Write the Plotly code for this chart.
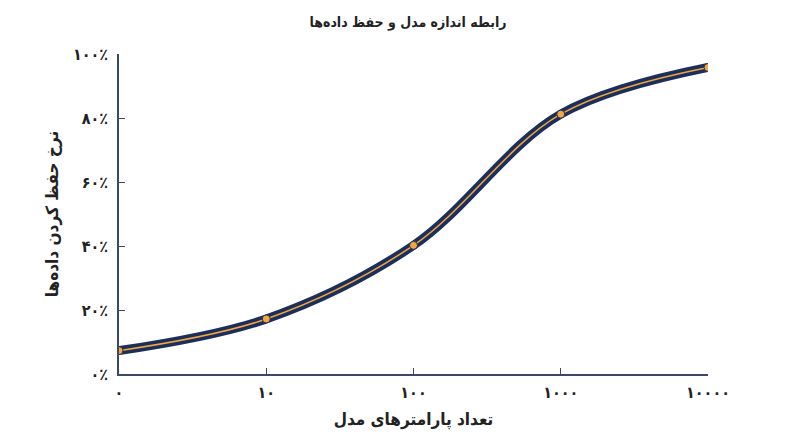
import plotly.graph_objects as go

# داده‌ها
x_pos = [0, 1, 2, 3, 4]
x_labels = ["۰", "۱۰", "۱۰۰", "۱۰۰۰", "۱۰۰۰۰"]
retention = [7.3, 17.2, 40.2, 81.2, 95.8]
y_ticks = [0, 20, 40, 60, 80, 100]
y_labels = ["۰٪", "۲۰٪", "۴۰٪", "۶۰٪", "۸۰٪", "۱۰۰٪"]

navy = "#1c2f5a"
orange = "#f2a640"
font_name = "DejaVu Sans Condensed, DejaVu Sans"

fig = go.Figure()
# خط ضخیم سرمه‌ای
fig.add_trace(go.Scatter(
    x=x_pos, y=retention,
    mode="lines",
    line=dict(color=navy, width=9, shape="spline", smoothing=1.0),
    hoverinfo="skip",
    showlegend=False,
))
# خط نازک نارنجی با نقاط
fig.add_trace(go.Scatter(
    x=x_pos, y=retention,
    mode="lines+markers",
    line=dict(color=orange, width=1.5, shape="spline", smoothing=1.0),
    marker=dict(size=8, color=orange, line=dict(color=navy, width=1)),
    showlegend=False,
))

fig.update_layout(
    width=800, height=447,
    paper_bgcolor="white", plot_bgcolor="white",
    margin=dict(l=111, r=100, t=46, b=81),
    title=dict(
        text="رابطه اندازه مدل و حفظ داده‌ها",
        x=0.5, xanchor="center", y=0.969, yanchor="middle",
        font=dict(family=font_name, size=14, color="#222", weight="bold"),
    ),
    xaxis=dict(
        range=[0, 4],
        tickvals=x_pos, ticktext=x_labels,
        showgrid=False, zeroline=False,
        showline=True, linecolor="#3a4a66", linewidth=1.5,
        ticks="inside", ticklen=6, tickcolor="#3a4a66",
        ticklabelstandoff=3,
        tickfont=dict(family=font_name, size=16, color="#222", weight="bold"),
        title=dict(text="تعداد پارامترهای مدل", standoff=12,
                   font=dict(family=font_name, size=17, color="#222", weight="bold")),
    ),
    yaxis=dict(
        range=[0, 100],
        tickvals=y_ticks, ticktext=y_labels,
        showgrid=False, zeroline=False,
        showline=True, linecolor="#3a4a66", linewidth=1.5,
        ticks="inside", ticklen=6, tickcolor="#3a4a66",
        ticklabelstandoff=6,
        tickfont=dict(family=font_name, size=16, color="#222", weight="bold"),
        title=dict(text="نرخ حفظ کردن داده‌ها", standoff=10,
                   font=dict(family=font_name, size=17, color="#222", weight="bold")),
    ),
)

fig.write_html("out.html")
